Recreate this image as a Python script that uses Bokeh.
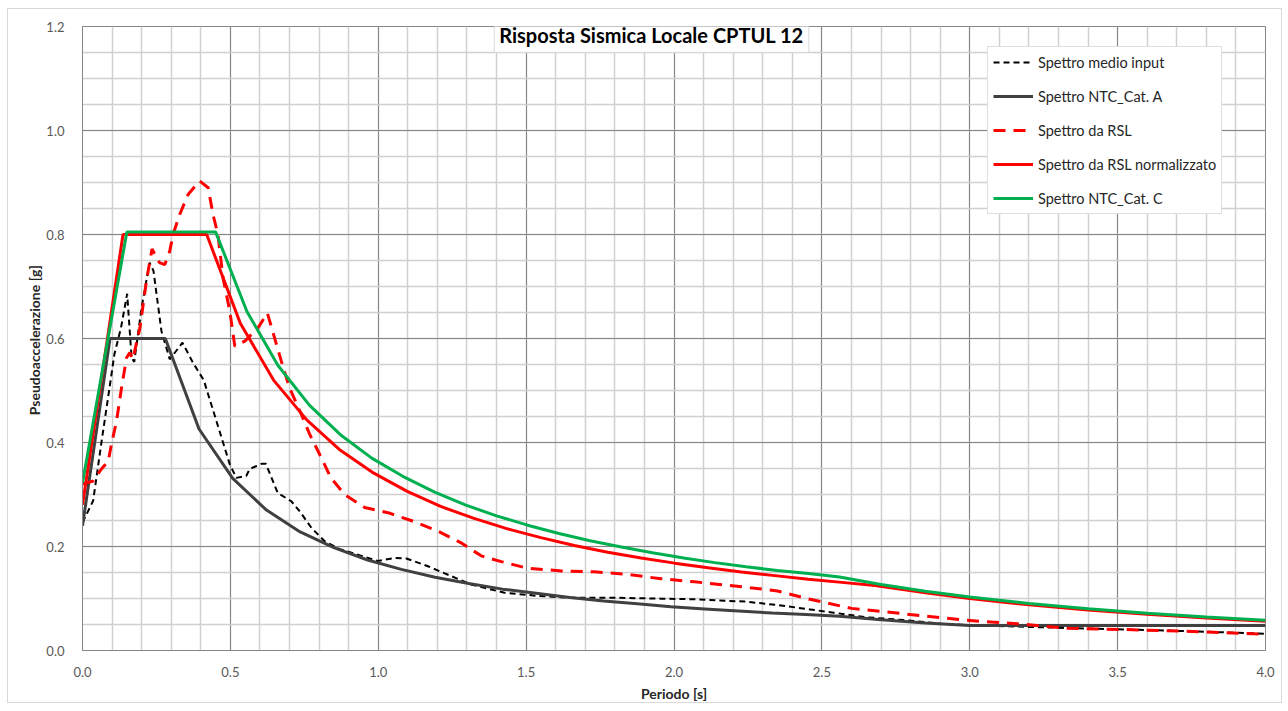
from bokeh.plotting import figure
from bokeh.models import (FixedTicker, NumeralTickFormatter, Legend, LegendItem,
                          Label, Range1d)
from bokeh.embed import file_html
from bokeh.resources import INLINE

# ---------------- data ----------------
T_input = [0.0, 0.036, 0.064, 0.09, 0.108, 0.13, 0.151, 0.166, 0.175, 0.2, 0.227, 0.24,
           0.267, 0.295, 0.338, 0.374, 0.41, 0.453, 0.498, 0.52, 0.554, 0.565, 0.605, 0.62,
           0.66, 0.706, 0.734, 0.774, 0.819, 0.87, 0.943, 0.999, 1.055, 1.095, 1.168,
           1.247, 1.314, 1.427, 1.54, 1.64, 1.8, 1.956, 2.07, 2.24, 2.35, 2.46, 2.54,
           2.65, 2.79, 2.9, 2.99, 3.22, 3.55, 3.72, 4.0]
A_input = [0.246, 0.288, 0.40, 0.50, 0.57, 0.62, 0.686, 0.563, 0.555, 0.66, 0.746, 0.73,
           0.614, 0.56, 0.592, 0.553, 0.52, 0.441, 0.358, 0.332, 0.336, 0.349, 0.359, 0.359,
           0.303, 0.287, 0.268, 0.236, 0.21, 0.195, 0.182, 0.172, 0.178, 0.177, 0.162,
           0.143, 0.127, 0.111, 0.105, 0.1015, 0.1015, 0.0997, 0.0985, 0.094, 0.0875, 0.079, 0.0727,
           0.064, 0.058, 0.0515, 0.049, 0.045, 0.040, 0.0375, 0.0323]

T_catA = [0.0, 0.093, 0.28, 0.394, 0.508, 0.622, 0.736, 0.85, 0.964, 1.078, 1.192, 1.306,
          1.42, 1.534, 1.648, 1.762, 1.876, 1.99, 2.104, 2.218, 2.332, 2.446, 2.56, 2.7,
          2.85, 3.0, 3.5, 4.0]
A_catA = [0.24, 0.60, 0.60, 0.426, 0.331, 0.270, 0.228, 0.198, 0.174, 0.156, 0.141, 0.129,
          0.118, 0.110, 0.102, 0.095, 0.090, 0.084, 0.080, 0.076, 0.072, 0.069, 0.066, 0.059,
          0.053, 0.048, 0.048, 0.048]

T_rsl = [0.0, 0.036, 0.064, 0.087, 0.098, 0.115, 0.132, 0.149, 0.16, 0.17, 0.194, 0.216,
         0.235, 0.26, 0.278, 0.295, 0.306, 0.329, 0.357, 0.396, 0.425, 0.441, 0.458, 0.475,
         0.498, 0.515, 0.549, 0.594, 0.625, 0.672, 0.7, 0.74, 0.768, 0.802, 0.84, 0.886,
         0.92, 0.954, 1.033, 1.111, 1.2, 1.28, 1.348, 1.416, 1.506, 1.62, 1.73, 1.84, 1.956,
         2.07, 2.24, 2.35, 2.46, 2.6, 2.77, 2.99, 3.16, 3.33, 3.55, 3.78, 4.0]
A_rsl = [0.32, 0.326, 0.349, 0.364, 0.397, 0.441, 0.505, 0.563, 0.573, 0.56, 0.62, 0.71,
         0.772, 0.746, 0.742, 0.768, 0.80, 0.839, 0.877, 0.903, 0.89, 0.839, 0.80, 0.717,
         0.653, 0.585, 0.595, 0.621, 0.649, 0.557, 0.505, 0.454, 0.416, 0.377, 0.332, 0.30,
         0.2875, 0.275, 0.265, 0.25, 0.23, 0.207, 0.182, 0.171, 0.158, 0.153, 0.1515, 0.1465, 0.138,
         0.132, 0.122, 0.1144, 0.0985, 0.081, 0.071, 0.058, 0.0515, 0.0427, 0.040, 0.036, 0.0314]

T_norm = [0.0, 0.137, 0.42, 0.533, 0.646, 0.759, 0.872, 0.985, 1.098, 1.211, 1.324, 1.437,
          1.55, 1.663, 1.776, 1.889, 2.002, 2.115, 2.228, 2.341, 2.454, 2.567, 2.68, 2.85,
          3.0, 3.2, 3.4, 3.6, 3.8, 4.0]
A_norm = [0.28, 0.80, 0.80, 0.630, 0.520, 0.443, 0.385, 0.341, 0.306, 0.277, 0.254, 0.234,
          0.217, 0.202, 0.189, 0.178, 0.168, 0.159, 0.151, 0.144, 0.137, 0.131, 0.125, 0.111,
          0.100, 0.0879, 0.0779, 0.0695, 0.0624, 0.0563]

T_catC = [0.0, 0.15, 0.45, 0.556, 0.661, 0.767, 0.872, 0.978, 1.083, 1.189, 1.294, 1.4,
          1.505, 1.611, 1.716, 1.822, 1.927, 2.033, 2.138, 2.244, 2.349, 2.455, 2.56, 2.7,
          2.85, 3.0, 3.2, 3.4, 3.6, 3.8, 4.0]
A_catC = [0.322, 0.805, 0.805, 0.652, 0.548, 0.472, 0.415, 0.370, 0.335, 0.305, 0.280, 0.259,
          0.241, 0.225, 0.211, 0.199, 0.188, 0.178, 0.169, 0.161, 0.154, 0.148, 0.1415, 0.127,
          0.114, 0.103, 0.0906, 0.0802, 0.0716, 0.0642, 0.058]

series_names = ["Spettro medio input", "Spettro NTC_Cat. A", "Spettro da RSL",
                "Spettro da RSL normalizzato", "Spettro NTC_Cat. C"]
title_text = "Risposta Sismica Locale CPTUL 12"
x_label = "Periodo [s]"
y_label = "Pseudoaccelerazione  [g]"
x_ticks = [0.0, 0.5, 1.0, 1.5, 2.0, 2.5, 3.0, 3.5, 4.0]
y_ticks = [0.0, 0.2, 0.4, 0.6, 0.8, 1.0, 1.2]

FONT = "Lato"

p = figure(width=1275, height=695, output_backend="svg", toolbar_location=None,
           x_range=Range1d(0, 4.0), y_range=Range1d(0, 1.2),
           min_border_left=74, min_border_right=18, min_border_top=17, min_border_bottom=54)
p.styles = {"border": "1px solid #D9D9D9", "box-sizing": "border-box",
            "margin-left": "7px", "margin-top": "8px"}
p.background_fill_color = "white"
p.border_fill_color = "white"
p.outline_line_color = "#868686"

# axes / ticks
x_minor = [round(i * 0.1, 2) for i in range(41)]
y_minor = [round(i * 0.05, 2) for i in range(25)]
p.xaxis.ticker = FixedTicker(ticks=x_ticks, minor_ticks=x_minor)
p.yaxis.ticker = FixedTicker(ticks=y_ticks, minor_ticks=y_minor)
p.xaxis.formatter = NumeralTickFormatter(format="0.0")
p.yaxis.formatter = NumeralTickFormatter(format="0.0")
for ax in (p.xaxis, p.yaxis):
    ax.major_tick_line_color = None
    ax.minor_tick_line_color = None
    ax.axis_line_color = "#868686"
    ax.major_label_text_font = FONT
    ax.major_label_text_font_size = "13px"
    ax.major_label_text_color = "#595959"
    ax.axis_label_text_font = FONT
    ax.axis_label_text_font_size = "14px"
    ax.axis_label_text_font_style = "bold"
    ax.axis_label_text_color = "#262626"
p.xaxis.axis_label = x_label
p.yaxis.axis_label = y_label
p.xaxis.major_label_standoff = 10
p.yaxis.major_label_standoff = 12
p.xaxis.axis_label_standoff = 5
p.yaxis.axis_label_standoff = 0

# grid
for g in (p.xgrid, p.ygrid):
    g.grid_line_color = "#868686"
    g.grid_line_width = 1
    g.minor_grid_line_color = "#D0D0D0"
    g.minor_grid_line_width = 1.5

# series
r1 = p.line(T_input, A_input, line_color="black", line_width=2, line_dash="6 4")
r2 = p.line(T_catA, A_catA, line_color="#404040", line_width=3)
r3 = p.line(T_rsl, A_rsl, line_color="#FF0000", line_width=3, line_dash="12 8")
r4 = p.line(T_norm, A_norm, line_color="#FF0000", line_width=3)
r5 = p.line(T_catC, A_catC, line_color="#00B050", line_width=3)

legend = Legend(items=[LegendItem(label=n, renderers=[r]) for n, r in
                       zip(series_names, [r1, r2, r3, r4, r5])],
                location=(905, 436))
legend.label_text_font = FONT
legend.label_text_font_size = "14.5px"
legend.label_text_color = "#262626"
legend.glyph_width = 40
legend.glyph_height = 20
legend.label_height = 20
legend.label_standoff = 5
legend.spacing = 14
legend.padding = 5
legend.margin = 0
legend.border_line_color = "#BFBFBF"
legend.background_fill_color = "white"
legend.background_fill_alpha = 1.0
p.add_layout(legend, "center")

title = Label(x=1.924, y=1.183, text=title_text, text_align="center", text_baseline="middle",
              text_font=FONT, text_font_size="20px", text_font_style="bold",
              text_color="black", background_fill_color="white",
              border_line_color="#D9D9D9", padding=5)
p.add_layout(title)

open("out.html", "w").write(file_html(p, INLINE))
